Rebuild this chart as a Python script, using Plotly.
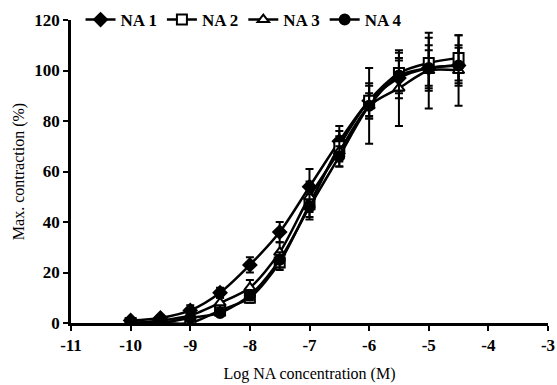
import plotly.graph_objects as go

log_conc = [-10, -9.5, -9, -8.5, -8, -7.5, -7, -6.5, -6, -5.5, -5, -4.5]
na1 = [1, 2, 5, 12, 23, 36, 54, 72, 88, 97, 101, 102]
na1_err = [1, 1, 2, 2, 3, 4, 7, 6, 6, 8, 9, 8]
na2 = [0, 0, 0, 5, 10, 24, 47, 70, 88, 99, 103, 105]
na2_err = [1, 1, 1, 2, 2, 3, 5, 6, 7, 8, 10, 9]
na3 = [0, 1, 3, 8, 14, 28, 50, 68, 86, 93, 100, 100]
na3_err = [1, 1, 1, 2, 3, 4, 6, 6, 15, 15, 15, 14]
na4 = [0, 0, 2, 4, 11, 25, 46, 66, 86, 98, 101, 102]
na4_err = [1, 1, 1, 1, 2, 3, 5, 4, 5, 6, 7, 7]

series = [
    ("NA 1", na1, na1_err, "diamond", "black"),
    ("NA 2", na2, na2_err, "square", "white"),
    ("NA 3", na3, na3_err, "triangle-up", "white"),
    ("NA 4", na4, na4_err, "circle", "black"),
]

fig = go.Figure()
for name, ys, errs, sym, fill in series:
    fig.add_trace(go.Scatter(
        x=log_conc, y=ys, name=name, mode="lines+markers",
        line=dict(color="black", width=2.5, shape="spline", smoothing=0.8),
        marker=dict(symbol=sym, size=10, color=fill, line=dict(color="black", width=2)),
        error_y=dict(type="data", array=errs, color="black", thickness=2, width=4),
    ))

font_family = "Liberation Serif"
fig.update_layout(
    width=557, height=385,
    margin=dict(l=71, r=9, t=20, b=62, autoexpand=False),
    paper_bgcolor="white", plot_bgcolor="white",
    font=dict(family=font_family, color="black", size=14),
    showlegend=True,
    legend=dict(orientation="h", x=0.02, y=1.0, xanchor="left", yanchor="middle",
                font=dict(size=17, family=font_family, weight="bold"),
                bgcolor="rgba(0,0,0,0)", itemwidth=30, tracegroupgap=0),
    xaxis=dict(range=[-11, -3], tickmode="array", tickvals=list(range(-11, -2)),
               ticktext=[str(v) for v in range(-11, -2)], automargin=False,
               showgrid=False, zeroline=False, showline=True, linecolor="black", linewidth=2.5,
               ticks="outside", ticklen=5, tickwidth=2, tickcolor="black",
               tickfont=dict(size=17, family=font_family, weight="bold"),
               title=dict(text="Log NA concentration (M)", font=dict(size=16, family=font_family), standoff=14)),
    yaxis=dict(range=[0, 120], tickvals=[0, 20, 40, 60, 80, 100, 120], automargin=False,
               showgrid=False, zeroline=False, showline=True, linecolor="black", linewidth=2.5,
               ticks="outside", ticklen=5, tickwidth=2, tickcolor="black",
               tickfont=dict(size=17, family=font_family, weight="bold"),
               title=dict(text="Max. contraction (%)", font=dict(size=16, family=font_family), standoff=6)),
)
fig.write_html("out.html")
